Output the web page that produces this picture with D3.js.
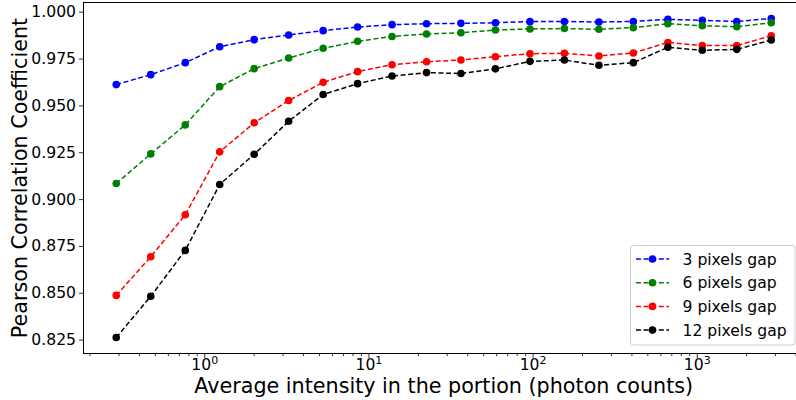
<!DOCTYPE html>
<html><head><meta charset="utf-8">
<script src="https://cdn.jsdelivr.net/npm/d3@7"></script>
<style>
html,body{margin:0;padding:0;background:#fff;}
svg{display:block;font-family:"DejaVu Sans",sans-serif;}
</style></head>
<body>
<svg id="chart" width="796" height="400"></svg>
<script>
const intensity = [0.291, 0.472, 0.766, 1.242, 2.014, 3.266, 5.30, 8.59, 13.93, 22.6, 36.6, 59.4, 96.4, 156.3, 253.5, 411, 667, 1081, 1754, 2844];
const gap3  = [0.9611, 0.9664, 0.9728, 0.9813, 0.9851, 0.9876, 0.9899, 0.9918, 0.9931, 0.9936, 0.9938, 0.9941, 0.9947, 0.9948, 0.9945, 0.9948, 0.9959, 0.9954, 0.9948, 0.9964];
const gap6  = [0.9083, 0.9241, 0.9396, 0.9600, 0.9696, 0.9753, 0.9805, 0.9842, 0.9868, 0.9881, 0.9888, 0.9902, 0.9908, 0.9910, 0.9906, 0.9915, 0.9936, 0.9925, 0.9920, 0.9941];
const gap9  = [0.8486, 0.8692, 0.8916, 0.9252, 0.9407, 0.9526, 0.9623, 0.9680, 0.9717, 0.9733, 0.9742, 0.9760, 0.9776, 0.9778, 0.9764, 0.9780, 0.9836, 0.9819, 0.9819, 0.9872];
const gap12 = [0.8261, 0.8481, 0.8726, 0.9078, 0.9239, 0.9415, 0.9558, 0.9616, 0.9657, 0.9675, 0.9670, 0.9695, 0.9735, 0.9742, 0.9714, 0.9728, 0.9810, 0.9794, 0.9799, 0.9849];
const seriesNames = ["3 pixels gap", "6 pixels gap", "9 pixels gap", "12 pixels gap"];
const seriesColors = ["#0000ff", "#008000", "#ff0000", "#000000"];
const yTicks = [0.825, 0.850, 0.875, 0.900, 0.925, 0.950, 0.975, 1.000];
const xMajorTicks = [1, 10, 100, 1000];
const xLabel = "Average intensity in the portion (photon counts)";
const yLabel = "Pearson Correlation Coefficient";

const seriesVals = [gap3, gap6, gap9, gap12];
const svg = d3.select("#chart");
const L = 83.5, R = 804, T = 2.5, B = 353.5;

// matplotlib-like 5% margins
const lx = d3.extent(intensity).map(Math.log10);
const padX = (lx[1] - lx[0]) * 0.05;
const x = d3.scaleLog().domain([Math.pow(10, lx[0] - padX), Math.pow(10, lx[1] + padX)]).range([L, R]);
const allY = seriesVals.flat();
const ey = d3.extent(allY);
const padY = (ey[1] - ey[0]) * 0.05;
const y = d3.scaleLinear().domain([ey[0] - padY, ey[1] + padY]).range([B, T]);

const fs = 15.6;

// minor ticks
const minor = [];
for (let k = -1; k <= 3; k++) for (let m = 2; m <= 9; m++) {
  const v = m * Math.pow(10, k);
  if (v >= x.domain()[0] && v <= x.domain()[1]) minor.push(v);
}

const xMinorAxis = d3.axisBottom(x).tickValues(minor).tickSize(2.6).tickFormat("");
const gxm = svg.append("g").attr("transform", `translate(0,${B})`).call(xMinorAxis);
gxm.select(".domain").remove();
gxm.selectAll("line").attr("stroke", "#000").attr("stroke-width", 0.8);

const xAxis = d3.axisBottom(x).tickValues(xMajorTicks).tickSize(4.5).tickPadding(4.5).tickFormat(() => "");
const gx = svg.append("g").attr("transform", `translate(0,${B})`).call(xAxis);
gx.select(".domain").remove();
gx.selectAll("line").attr("stroke", "#000").attr("stroke-width", 0.8);
gx.selectAll(".tick").each(function(d) {
  const t = d3.select(this).append("text")
    .attr("x", 0).attr("y", 16.6).attr("fill", "#000")
    .attr("text-anchor", "middle")
    .style("font-size", fs + "px");
  t.append("tspan").text("10");
  t.append("tspan").attr("dy", -6.5).style("font-size", "11px").text(String(Math.round(Math.log10(d))));
});

const yAxis = d3.axisLeft(y).tickValues(yTicks).tickSize(4.5).tickPadding(3).tickFormat(d3.format(".3f"));
const gy = svg.append("g").attr("transform", `translate(${L},0)`).call(yAxis);
gy.select(".domain").remove();
gy.selectAll("line").attr("stroke", "#000").attr("stroke-width", 0.8);
gy.selectAll("text").attr("fill", "#000").style("font-size", fs + "px").style("font-family", "DejaVu Sans");
gx.selectAll("text").style("font-family", "DejaVu Sans");

// spines
svg.append("rect").attr("x", L).attr("y", T).attr("width", R - L).attr("height", B - T)
  .attr("fill", "none").attr("stroke", "#000").attr("stroke-width", 1);

// series
const line = d3.line().x((d, i) => x(intensity[i])).y(d => y(d));
seriesVals.forEach((vals, si) => {
  svg.append("path").datum(vals).attr("d", line)
    .attr("fill", "none").attr("stroke", seriesColors[si])
    .attr("stroke-width", 1.5).attr("stroke-dasharray", "5,2.6");
  svg.append("g").selectAll("circle").data(vals).join("circle")
    .attr("cx", (d, i) => x(intensity[i])).attr("cy", d => y(d))
    .attr("r", 3.8).attr("fill", seriesColors[si]);
});

// axis labels
svg.append("text").attr("x", (L + R) / 2).attr("y", 393).attr("text-anchor", "middle")
  .style("font-size", "20.7px").attr("fill", "#000").text(xLabel);
svg.append("text").attr("transform", `translate(27,${(T + B) / 2}) rotate(-90)`)
  .attr("text-anchor", "middle").style("font-size", "20.7px").attr("fill", "#000").text(yLabel);

// legend
const lg = svg.append("g");
lg.append("rect").attr("x", 630.5).attr("y", 245.5).attr("width", 164.5).attr("height", 99.5)
  .attr("rx", 3).attr("fill", "#fff").attr("fill-opacity", 0.8).attr("stroke", "#cccccc").attr("stroke-width", 1);
seriesNames.forEach((name, i) => {
  const yy = 259 + i * 23.7;
  lg.append("line").attr("x1", 636).attr("x2", 669).attr("y1", yy).attr("y2", yy)
    .attr("stroke", seriesColors[i]).attr("stroke-width", 1.5).attr("stroke-dasharray", "5,2.6");
  lg.append("circle").attr("cx", 652.5).attr("cy", yy).attr("r", 3.8).attr("fill", seriesColors[i]);
  lg.append("text").attr("x", 682.5).attr("y", yy).attr("dy", "0.36em")
    .style("font-size", fs + "px").attr("fill", "#000").text(name);
});
</script>
</body></html>
